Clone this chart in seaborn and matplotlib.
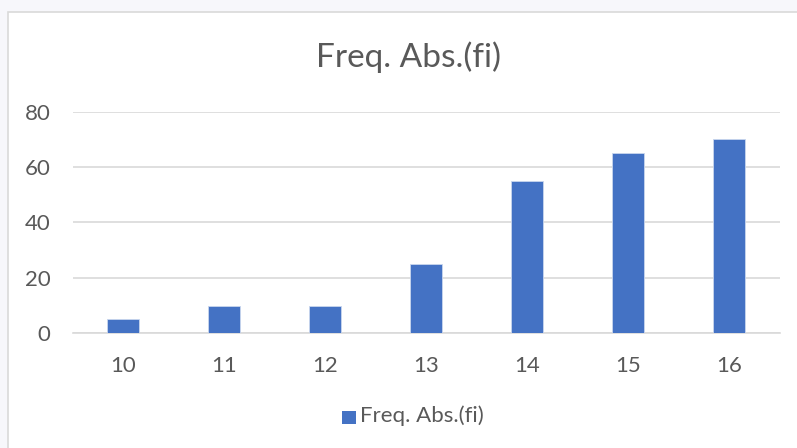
import numpy as np
import pandas as pd
import matplotlib
matplotlib.use("Agg")
import matplotlib.pyplot as plt
from matplotlib.patches import Rectangle
import seaborn as sns

categories = ["10", "11", "12", "13", "14", "15", "16"]
values = [5, 10, 10, 25, 55, 65, 70]
series_name = "Freq. Abs.(fi)"
y_ticks = [0, 20, 40, 60, 80]

df = pd.DataFrame({"cat": categories, "val": values})

sns.set_style("white")
plt.rcParams['font.family'] = ['Lato', 'DejaVu Sans']
text_color = "#595959"
bar_color = "#4472C4"

W, H = 797, 448
fig = plt.figure(figsize=(W / 100, H / 100), dpi=100, facecolor="#F7F7FB")

# chart frame (white area with light border), behind the axes
frame = Rectangle((8 / W, -0.1), 1.2, 1 - 12 / H + 0.1, transform=fig.transFigure,
                  facecolor="white", edgecolor="#D9D9D9", linewidth=1.2, zorder=-10)
fig.patches.append(frame)

ax = fig.add_axes([72.8 / W, 1 - 333.3 / H, 707 / W, (333.3 - 111.7) / H])
ax.set_facecolor("none")
ax.set_zorder(5)
sns.barplot(data=df, x="cat", y="val", color=bar_color, width=0.317, saturation=1,
            edgecolor="#C9D6EE", linewidth=0.6, ax=ax, zorder=3)

ax.set_ylim(0, 80)
ax.set_yticks(y_ticks)
ax.set_xlim(-0.5, len(categories) - 0.5)
ax.grid(axis="y", color="#D9D9D9", linewidth=1.2, zorder=0)
ax.set_axisbelow(True)
for s in ["top", "right", "left"]:
    ax.spines[s].set_visible(False)
ax.spines["bottom"].set_color("#D9D9D9")
ax.spines["bottom"].set_linewidth(1.2)
ax.tick_params(axis="both", length=0, labelsize=16, labelcolor=text_color)
ax.tick_params(axis="y", pad=16)
ax.tick_params(axis="x", pad=16)
ax.set_xlabel("")
ax.set_ylabel("")

fig.text(408 / W, 1 - 57 / H, series_name, ha="center", va="center",
         fontsize=24, color=text_color)

# legend
fig.patches.append(Rectangle((342 / W, 1 - 424 / H), 14 / W, 13.5 / H, transform=fig.transFigure,
                             facecolor=bar_color, edgecolor="none"))
fig.text(360 / W, 1 - 416 / H, series_name, ha="left", va="center",
         fontsize=16, color=text_color)

fig.savefig("out.png", dpi=100, facecolor=fig.get_facecolor())
